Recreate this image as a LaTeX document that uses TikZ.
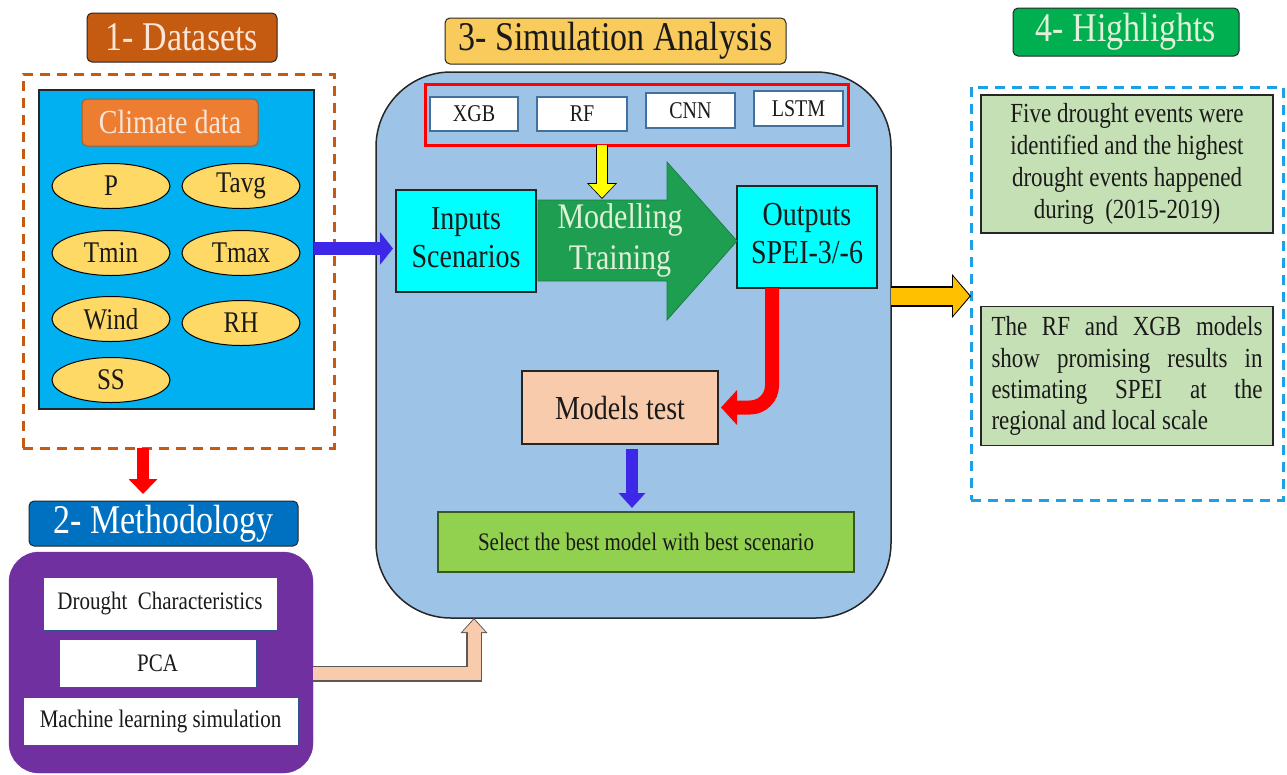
\documentclass[tikz,border=0pt]{standalone}
\usepackage{fontspec}
\usepackage{graphicx}
\setmainfont{Liberation Serif}
\usetikzlibrary{arrows.meta,shapes.geometric,calc}
\newcommand{\stx}[1]{\scalebox{1}[1.2]{#1}}
\newcommand{\stl}[2]{\scalebox{1}[1.2]{\begin{tabular}{@{}#1@{}}#2\end{tabular}}}
\definecolor{dsF}{HTML}{C55A11}
\definecolor{cream}{HTML}{FBE5D6}
\definecolor{dk}{HTML}{262626}
\definecolor{txt}{HTML}{1A1A1A}
\definecolor{blueF}{HTML}{00B0F0}
\definecolor{climF}{HTML}{ED7D31}
\definecolor{climB}{HTML}{AE5A21}
\definecolor{ellY}{HTML}{FFD966}
\definecolor{methF}{HTML}{0070C0}
\definecolor{purp}{HTML}{7030A0}
\definecolor{wbord}{HTML}{2F5597}
\definecolor{simT}{HTML}{F8CB5C}
\definecolor{simF}{HTML}{9DC3E6}
\definecolor{mbord}{HTML}{41719C}
\definecolor{cyanF}{HTML}{00FFFF}
\definecolor{grnF}{HTML}{1E9E50}
\definecolor{grnB}{HTML}{178040}
\definecolor{grnT}{HTML}{E2F0D9}
\definecolor{peach}{HTML}{F8CBAD}
\definecolor{selF}{HTML}{92D050}
\definecolor{selB}{HTML}{385723}
\definecolor{hlT}{HTML}{00B050}
\definecolor{hlTT}{HTML}{E2F0D9}
\definecolor{hdashC}{HTML}{1EA0E6}
\definecolor{hlF}{HTML}{C5E0B4}
\definecolor{orng}{HTML}{FFC000}
\definecolor{blueA}{HTML}{3C28E6}
\definecolor{yel}{HTML}{FFFF00}
\definecolor{pkB}{HTML}{595959}
\begin{document}
\begin{tikzpicture}[x=1pt,y=-1pt]
\tikzset{
 every node/.style={inner sep=0pt,outer sep=0pt,text=txt},
 sz/.style 2 args={minimum width=#1,minimum height=#2},
 hdr/.style={draw=dk,line width=1pt,rounded corners=5pt,font=\fontsize{34}{40}\selectfont},
 ell/.style={ellipse,draw=black,line width=1pt,fill=ellY,sz={118}{45},font=\fontsize{25}{30}\selectfont},
 mbox/.style={draw=mbord,line width=1.2pt,fill=white,font=\fontsize{20}{24}\selectfont},
 cyanbox/.style={draw=dk,line width=1.2pt,fill=cyanF,font=\fontsize{28}{31}\selectfont},
 hlbox/.style={draw=dk,line width=1.2pt,fill=hlF,font=\fontsize{23}{26.5}\selectfont},
 wbox/.style={draw=wbord,line width=1pt,fill=white,font=\fontsize{21}{25}\selectfont},
 dashbox/.style={draw=#1,dash pattern=on 10pt off 7pt,line width=3pt},
}
\useasboundingbox (0,0) rectangle (1287,774);

% ---------- 1 Datasets ----------
\node[hdr,fill=dsF,text=cream,sz={190}{49}] (dtitle) at (182,37.5) {\stx{1- Datasets}};
\node[dashbox=dsF,sz={311}{374}] (ddash) at (178.5,261) {};
\node[draw=dk,line width=1.2pt,fill=blueF,sz={275}{319}] (dblue) at (176.5,249.5) {};
\node[draw=climB,line width=1pt,fill=climF,rounded corners=5pt,text=cream,sz={176}{47},font=\fontsize{28}{34}\selectfont] (climate) at (170,122.5) {\stx{Climate data}};
\node[ell] (p) at (111,186) {\stx{P}};
\node[ell] (tavg) at (241,186) {\stx{Tavg}};
\node[ell] (tmin) at (111,253) {\stx{Tmin}};
\node[ell] (tmax) at (241,253) {\stx{Tmax}};
\node[ell] (wind) at (111,319) {\stx{Wind}};
\node[ell] (rh) at (241,323) {\stx{RH}};
\node[ell] (ss) at (111,380) {\stx{SS}};

% ---------- 2 Methodology ----------
\node[hdr,fill=methF,text=white,sz={269}{45}] (mtitle) at (163.5,523.5) {\stx{2- Methodology}};
\node[fill=purp,draw=purp,rounded corners=30pt,sz={304}{221}] (purple) at (161,662.5) {};
\node[wbox,sz={234}{53}] (drought) at (160,603.5) {\stx{Drought\ \ Characteristics}};
\node[wbox,sz={197}{48}] (pca) at (157.5,663) {\stx{PCA}};
\node[wbox,sz={275}{48}] (ml) at (160.5,721) {\stx{Machine learning simulation}};

% ---------- 3 Simulation ----------
\node[hdr,fill=simT,sz={341}{46}] (stitle) at (615.5,41) {\stx{3- Simulation Analysis}};
\node[draw=dk,line width=1.5pt,fill=simF,rounded corners=75pt,sz={515}{546}] (sim) at (633.5,345) {};
\node[draw=red,line width=3pt,sz={423}{61}] (models) at (636.5,114.5) {};
\node[mbox,sz={88}{34}] (xgb) at (474,114) {\stx{XGB}};
\node[mbox,sz={90}{34}] (rf) at (582,114) {\stx{RF}};
\node[mbox,sz={89}{35}] (cnn) at (690.5,110.5) {\stx{CNN}};
\node[mbox,sz={89}{35}] (lstm) at (798.5,108.5) {\stx{LSTM}};
\node[cyanbox,sz={140}{102}] (inputs) at (466,241) {\stl{c}{Inputs\\Scenarios}};
\node[cyanbox,sz={140}{102}] (outputs) at (807,237) {\stl{c}{Outputs\\SPEI-3/-6}};
\filldraw[draw=grnB,fill=grnF,line width=0.8pt] (538,200) -- (667,200) -- (667,162) -- (737,241) -- (667,320) -- (667,281) -- (538,281) -- cycle;
\node[text=grnT,font=\fontsize{30}{33.5}\selectfont] (train) at (620,241) {\stl{c}{Modelling\\Training}};
\coordinate (gtop) at (602,199);
\node[draw=dk,line width=1.2pt,fill=peach,sz={196}{73},font=\fontsize{28}{34}\selectfont] (test) at (620,407.5) {\stx{Models test}};
\node[draw=selB,line width=1.2pt,fill=selF,sz={416}{60},font=\fontsize{21}{25}\selectfont] (select) at (646,542) {\stx{Select the best model with best scenario}};

% ---------- 4 Highlights ----------
\node[hdr,fill=hlT,text=hlTT,sz={226}{48}] (htitle) at (1126,32) {\stx{4- Highlights}};
\node[dashbox=hdashC,sz={312}{413}] (hdash) at (1127,293.5) {};
\node[hlbox,sz={292}{138}] (h1) at (1127,164) {\stl{c}{Five drought events were\\identified and the highest\\drought events happened\\during\ \ (2015-2019)}};
\node[hlbox,sz={292}{139}] (h2) at (1127,376) {\scalebox{1}[1.2]{\parbox{271pt}{\fontsize{23}{26}\selectfont\hyphenpenalty=10000 The RF and XGB models\linebreak show promising results in\linebreak estimating SPEI at the\linebreak regional and local scale}}};

% ---------- connectors ----------
\draw[line width=13pt,draw=blueA,-{Triangle[width=32pt,length=13pt]},shorten >=3pt] ([yshift=1pt]dblue.east) -- ([yshift=1pt]dblue.east -| inputs.west);
\draw[line width=12pt,draw=red,-{Triangle[width=28pt,length=15pt]},shorten >=7pt] ([xshift=-35.5pt]ddash.south) -- ([xshift=-35.5pt]ddash.south |- mtitle.north);
\draw[line width=12pt,draw=black,-{Triangle[width=29pt,length=16pt]}] ([xshift=-34.5pt]models.south) -- (gtop);
\draw[line width=9.5pt,draw=yel,-{Triangle[width=25pt,length=13.5pt]},shorten >=1.3pt] ([xshift=-34.5pt]models.south) -- (gtop);
\draw[line width=14pt,draw=red,rounded corners=22pt,-{Triangle[width=34pt,length=16pt]},shorten >=3pt] ([xshift=-35pt]outputs.south) |- (test.east);
\draw[line width=12pt,draw=blueA,-{Triangle[width=26pt,length=15pt]},shorten <=5pt,shorten >=4pt] ([xshift=12pt]test.south) -- ([xshift=12pt]test.south |- select.north);
\draw[line width=21pt,draw=black,-{Triangle[width=43pt,length=19pt]}] ([yshift=49pt]sim.east) -- ([yshift=49pt]sim.east -| hdash.west);
\draw[line width=17pt,draw=orng,-{Triangle[width=38pt,length=16.5pt]},shorten >=1.5pt] ([yshift=49pt]sim.east) -- ([yshift=49pt]sim.east -| hdash.west);
\draw[line width=16pt,draw=pkB,line join=miter,-{Triangle[width=26pt,length=15pt]}] ([yshift=-11pt]purple.east) -| ([xshift=-159.5pt]sim.south);
\draw[line width=13pt,draw=peach,line join=miter,-{Triangle[width=22pt,length=12.5pt]},shorten >=1.5pt] ([yshift=-11pt]purple.east) -| ([xshift=-159.5pt]sim.south);
\end{tikzpicture}
\end{document}
